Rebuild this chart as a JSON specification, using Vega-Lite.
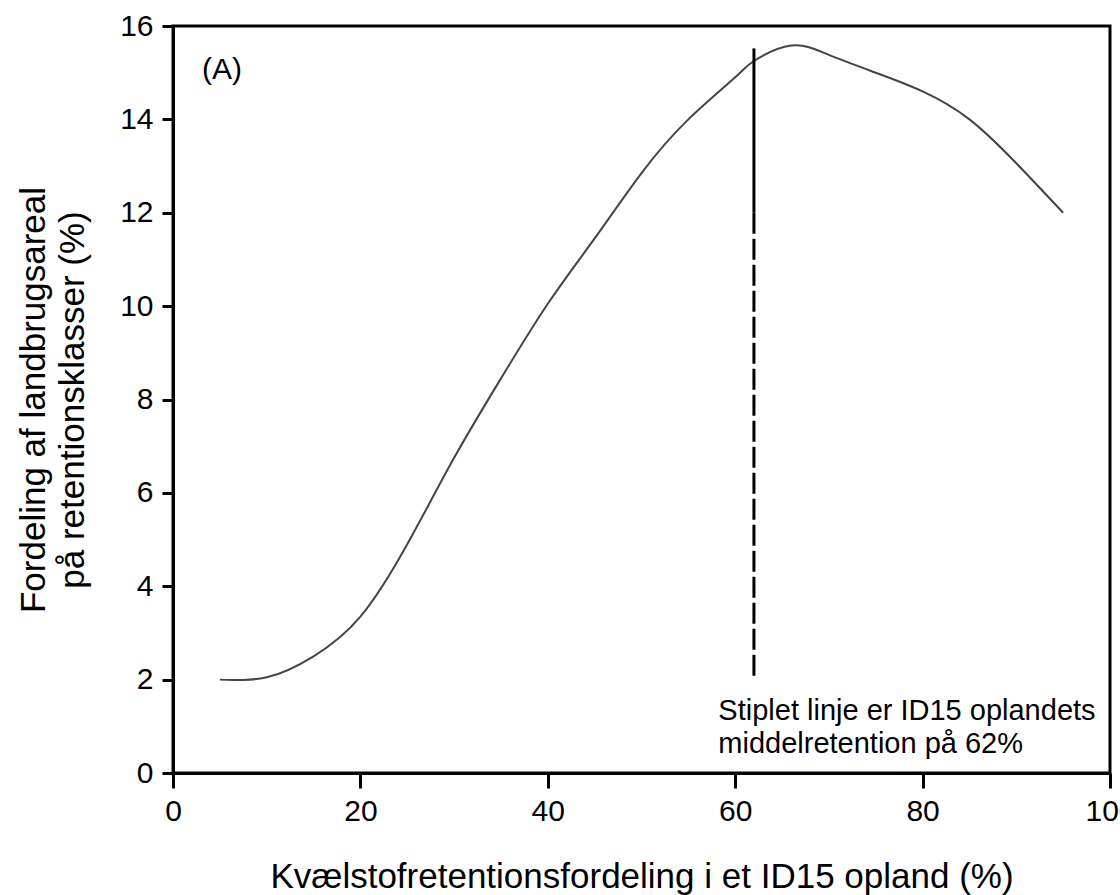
{
  "$schema": "https://vega.github.io/schema/vega-lite/v6.json",
  "autosize": {"type": "none"},
  "width": 937,
  "height": 747,
  "padding": {"left": 173, "top": 26, "right": 10, "bottom": 122},
  "background": "white",
  "config": {
    "font": "Liberation Sans",
    "view": {"stroke": "black", "strokeWidth": 3},
    "axis": {
      "grid": false,
      "domainColor": "black",
      "domainWidth": 3,
      "tickColor": "black",
      "tickWidth": 3,
      "labelFont": "Liberation Sans",
      "labelFontSize": 30,
      "labelColor": "black",
      "labelFlush": false,
      "labelOverlap": false,
      "titleFont": "Liberation Sans",
      "titleFontSize": 35,
      "titleFontWeight": "normal",
      "titleColor": "black"
    }
  },
  "datasets": {
    "curve": [
      {"x": 5, "y": 2.0},
      {"x": 10, "y": 2.05},
      {"x": 15, "y": 2.5},
      {"x": 20, "y": 3.35},
      {"x": 25, "y": 4.9},
      {"x": 30, "y": 6.75},
      {"x": 35, "y": 8.45},
      {"x": 40, "y": 10.05},
      {"x": 45, "y": 11.45},
      {"x": 50, "y": 12.85},
      {"x": 55, "y": 14.0},
      {"x": 60, "y": 14.9},
      {"x": 62, "y": 15.25},
      {"x": 66, "y": 15.58},
      {"x": 70, "y": 15.38},
      {"x": 75, "y": 15.0},
      {"x": 80, "y": 14.6},
      {"x": 85, "y": 14.0},
      {"x": 90, "y": 13.06},
      {"x": 95, "y": 12.0}
    ],
    "mean": [
      {"x": 62, "ytop": 15.52, "ymid": 12.0, "ybot": 2.0}
    ]
  },
  "layer": [
    {
      "data": {"name": "curve"},
      "mark": {"type": "line", "interpolate": "natural", "color": "#444", "strokeWidth": 2},
      "encoding": {
        "x": {
          "field": "x", "type": "quantitative",
          "scale": {"domain": [0, 100], "nice": false},
          "axis": {
            "values": [0, 20, 40, 60, 80, 100],
            "tickSize": 15,
            "labelPadding": 8,
            "title": "Kvælstofretentionsfordeling i et ID15 opland (%)",
            "titlePadding": 33
          }
        },
        "y": {
          "field": "y", "type": "quantitative",
          "scale": {"domain": [0, 16], "nice": false},
          "axis": {
            "values": [0, 2, 4, 6, 8, 10, 12, 14, 16],
            "tickSize": 11,
            "labelPadding": 9,
            "title": ["Fordeling af landbrugsareal", "på retentionsklasser (%)"],
            "titleLineHeight": 39,
            "titlePadding": 29
          }
        }
      }
    },
    {
      "data": {"name": "mean"},
      "mark": {"type": "rule", "color": "black", "strokeWidth": 3},
      "encoding": {
        "x": {"field": "x", "type": "quantitative"},
        "y": {"field": "ytop", "type": "quantitative"},
        "y2": {"field": "ymid"}
      }
    },
    {
      "data": {"name": "mean"},
      "mark": {"type": "rule", "color": "black", "strokeWidth": 3, "strokeDash": [21, 5]},
      "encoding": {
        "x": {"field": "x", "type": "quantitative"},
        "y": {"field": "ymid", "type": "quantitative"},
        "y2": {"field": "ybot"}
      }
    },
    {
      "data": {"values": [{"label": "(A)"}]},
      "mark": {"type": "text", "align": "left", "baseline": "middle", "fontSize": 30, "font": "Liberation Sans", "color": "black"},
      "encoding": {
        "x": {"datum": 3.1},
        "y": {"datum": 15.05},
        "text": {"field": "label"}
      }
    },
    {
      "data": {"values": [{"label": "Stiplet linje er ID15 oplandets\nmiddelretention på 62%"}]},
      "mark": {"type": "text", "align": "left", "baseline": "alphabetic", "fontSize": 29, "font": "Liberation Sans", "color": "black", "lineBreak": "\n", "lineHeight": 33},
      "encoding": {
        "x": {"datum": 58.2},
        "y": {"datum": 1.13},
        "text": {"field": "label"}
      }
    }
  ]
}
